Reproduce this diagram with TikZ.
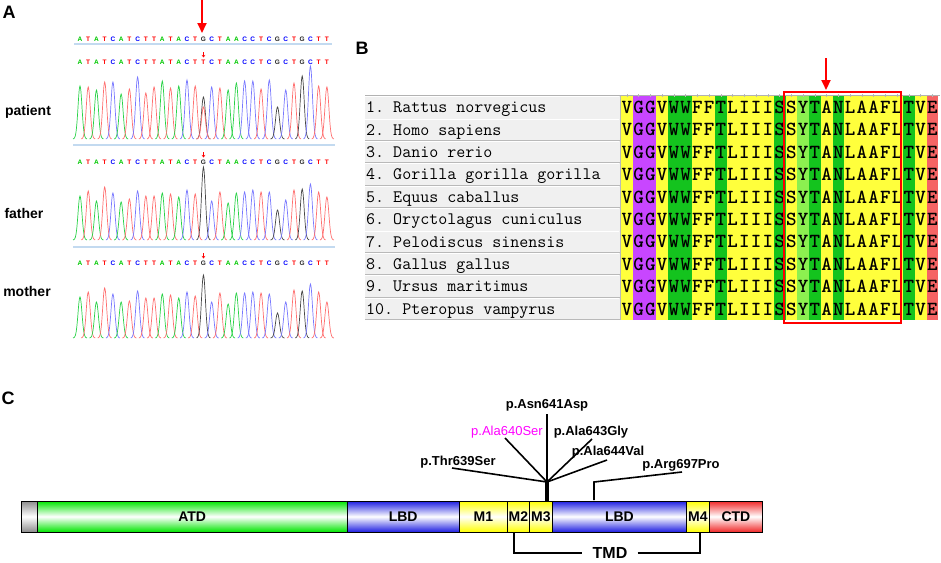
\documentclass[tikz,border=0pt]{standalone}
\usepackage{fontspec}
\usepackage{tikz}
\usetikzlibrary{arrows.meta}
\newfontfamily\arial{Liberation Sans}

\definecolor{trA}{RGB}{40,210,70}
\definecolor{trC}{RGB}{120,120,255}
\definecolor{trG}{RGB}{70,70,70}
\definecolor{trT}{RGB}{255,110,110}
\definecolor{sqA}{RGB}{0,200,0}
\definecolor{sqC}{RGB}{0,0,255}
\definecolor{sqG}{RGB}{40,40,40}
\definecolor{sqT}{RGB}{255,0,0}
\definecolor{seqline}{RGB}{195,218,240}
\definecolor{alY}{RGB}{255,255,60}
\definecolor{alP}{RGB}{200,70,255}
\definecolor{alG}{RGB}{20,195,30}
\definecolor{alL}{RGB}{140,240,80}
\definecolor{alR}{RGB}{245,100,100}
\definecolor{domG}{RGB}{0,230,0}
\definecolor{domB}{RGB}{30,30,225}
\definecolor{domY}{RGB}{255,255,0}
\definecolor{domR}{RGB}{240,40,40}
\definecolor{domK}{RGB}{140,140,140}

% one chromatogram: baseline, letter/height list
\newcommand{\trace}[2]{%
  \foreach \b/\h [count=\i from 0] in {#2} {%
    \pgfmathsetmacro{\px}{80+8.23*\i}
    \draw[tr\b, line width=0.7pt] plot[domain=-7:7, samples=19, smooth]
      ({\px+\x},{#1-\h*exp(-((\x/2.8)*(\x/2.8)))});
  }}
% one base-call row: y, letters
\newcommand{\seqrow}[2]{%
  \foreach \b [count=\i from 0] in {#2} {%
    \node[nt, text=sq\b] (s#1-\i) at ({80+8.23*\i},#1) {\b};
  }}

\begin{document}
\begin{tikzpicture}[x=1pt,y=-1pt]
\tikzset{basic/.style={inner sep=0pt, font=\arial\bfseries}}
\tikzset{panel/.style={basic, font=\arial\bfseries\fontsize{18}{20}\selectfont}}
\tikzset{who/.style={basic, font=\arial\bfseries\fontsize{14}{16}\selectfont}}
\tikzset{nt/.style={basic, font=\arial\bfseries\fontsize{6.5}{7}\selectfont}}
\tikzset{spname/.style={inner sep=0pt, anchor=base west, font=\ttfamily\fontsize{17.5}{18}\selectfont}}
\tikzset{aa/.style={inner sep=0pt, anchor=base, font=\ttfamily\bfseries\fontsize{20}{20}\selectfont}}
\tikzset{dom/.style={basic, draw=black, line width=0.9pt, anchor=west, minimum height=31pt,
  font=\arial\bfseries\fontsize{14}{16}\selectfont}}
\tikzset{mut/.style={basic, font=\arial\bfseries\fontsize{13}{15}\selectfont}}
\tikzset{xian/.style={draw, line width=1.6pt}}
\tikzset{jian/.style={draw=red, line width=2pt, -{Triangle[width=9pt,length=10pt]}}}
\tikzset{sep/.style={draw=seqline, line width=1.5pt}}
\tikzset{snpmark/.style={color=red, line width=0.7pt, -{Stealth[length=2.5pt,width=3.5pt]}}}

\useasboundingbox (0,0) rectangle (941,562);

% ---------------- A
\node[panel](pa)at(9,12){A};
\node[who](pat)at(28,112){patient};
\node[who](fat)at(24,213){father};
\node[who](mot)at(27,291){mother};

\coordinate (a0) at (202,0);
\coordinate (a1) at (202,33);
\path[jian] (a0) -- (a1);

\seqrow{39}{A,T,A,T,C,A,T,C,T,T,A,T,A,C,T,G,C,T,A,A,C,C,T,C,G,C,T,G,C,T,T}
\path[sep] (74,44) -- (332,44);
\seqrow{62}{A,T,A,T,C,A,T,C,T,T,A,T,A,C,T,T,C,T,A,A,C,C,T,C,G,C,T,G,C,T,T}
\seqrow{162}{A,T,A,T,C,A,T,C,T,T,A,T,A,C,T,G,C,T,A,A,C,C,T,C,G,C,T,G,C,T,T}
\seqrow{263}{A,T,A,T,C,A,T,C,T,T,A,T,A,C,T,G,C,T,A,A,C,C,T,C,G,C,T,G,C,T,T}
\draw[snpmark] (203.5,52) -- (203.5,57.5);
\draw[snpmark] (203.5,152) -- (203.5,157.5);
\draw[snpmark] (203.5,253) -- (203.5,258.5);

\trace{139}{A/53,T/52,A/49,T/57,C/57,A/45,T/50,C/62,T/46,T/52,A/58,T/51,A/53,C/59,T/53,G/42,C/52,T/51,A/49,A/56,C/58,C/58,T/50,C/59,G/32,C/49,T/56,G/63,C/73,T/53,T/52}
\draw[trT, line width=0.7pt] plot[domain=-7:7, samples=19, smooth]
  ({203.45+\x},{139-32*exp(-((\x/2.8)*(\x/2.8)))});
\path[sep] (73,145) -- (335,145);
\trace{240}{A/44,T/49,A/39,T/53,C/47,A/38,T/41,C/49,T/44,T/44,A/47,T/46,A/43,C/50,T/46,G/73,C/39,T/48,A/37,A/47,C/48,C/50,T/48,C/48,G/30,C/40,T/50,G/51,C/56,T/48,T/43}
\path[sep] (73,247) -- (335,247);
\trace{338}{A/41,T/46,A/36,T/50,C/44,A/36,T/37,C/47,T/40,T/40,A/44,T/43,A/40,C/46,T/42,G/63,C/36,T/45,A/34,A/45,C/45,C/46,T/45,C/44,G/25,C/36,T/48,G/47,C/54,T/46,T/36}

% ---------------- B
\node[panel](pb)at(362,48){B};
\coordinate (b0) at (826,58);
\coordinate (b1) at (826,90);
\path[jian] (b0) -- (b1);

\foreach \n [count=\r] in {Rattus norvegicus, Homo sapiens, Danio rerio, Gorilla gorilla gorilla,
  Equus caballus, Oryctolagus cuniculus, Pelodiscus sinensis, Gallus gallus, Ursus maritimus,
  Pteropus vampyrus} {
  \pgfmathsetmacro{\yy}{96+22.4*(\r-1)}
  \fill[gray!12] (365,\yy) rectangle (620,{\yy+22.4});
  \draw[white, line width=1pt] (365,{\yy+0.6}) -- (619,{\yy+0.6});
  \draw[gray!55, line width=0.8pt] (365,{\yy+22}) -- (620,{\yy+22}) -- (620,\yy);
  \node[spname](sp\r)at(366,{\yy+16.6}){\r.\ \n};
}

\foreach \c/\col [count=\k from 0] in {V/alY,G/alP,G/alP,V/alY,W/alG,W/alG,F/alY,F/alY,T/alG,
  L/alY,I/alY,I/alY,I/alY,S/alG,S/alY,Y/alL,T/alG,A/alY,N/alG,L/alY,A/alY,A/alY,F/alY,L/alY,
  T/alG,V/alY,E/alR} {
  \fill[\col] ({621+11.75*\k},96) rectangle ({621+11.75*(\k+1)},320);
  \draw[gray!55] ({621+11.75*(\k+0.5)},94) -- ++(0,2.5);
  \foreach \r in {1,...,10}
    \node[aa](aa\k-\r)at({621+11.75*(\k+0.5)},{96+22.4*(\r-1)+17.4}){\c};
}
\draw[gray!60, line width=1pt] (365,95) -- (940,95);
\draw[red, line width=1.3pt] (784,92) rectangle (901,323);

% ---------------- C
\node[panel](pc)at(8,398){C};

\node[dom, top color=domK, bottom color=domK, middle color=white, minimum width=16pt](nt)at(21,516.5){};
\node[dom, top color=domG, bottom color=domG, middle color=white, minimum width=309.5pt](atd)at(37,516.5){ATD};
\node[dom, top color=domB, bottom color=domB, middle color=white, minimum width=112.5pt](lbd1)at(346.5,516.5){LBD};
\node[dom, top color=domY, bottom color=domY, middle color=white, minimum width=48pt](m1)at(459,516.5){M1};
\node[dom, top color=domY, bottom color=domY, middle color=white, minimum width=22pt](m2)at(507,516.5){M2};
\node[dom, top color=domY, bottom color=domY, middle color=white, minimum width=23pt](m3)at(529,516.5){M3};
\node[dom, top color=domB, bottom color=domB, middle color=white, minimum width=134pt](lbd2)at(552,516.5){LBD};
\node[dom, top color=domY, bottom color=domY, middle color=white, minimum width=23pt](m4)at(686,516.5){M4};
\node[dom, top color=domR, bottom color=domR, middle color=white, minimum width=53pt](ctd)at(709,516.5){CTD};

% TMD bracket
\node[basic, font=\arial\bfseries\fontsize{16}{18}\selectfont, inner xsep=10pt](tmd)at(610,553){TMD};
\coordinate (tl) at (514,533);
\coordinate (tr) at (700,533);
\path[xian, line width=2pt] (tl) |- (tmd.west);
\path[xian, line width=2pt] (tmd.east) -| (tr);

% mutations
\node[mut](asn)at(547,405){p.Asn641Asp};
\node[basic, font=\arial\fontsize{13}{15}\selectfont, text={rgb,255:red,255;green,0;blue,255}](a640)at(507,432){p.Ala640Ser};
\node[mut](a643)at(591,432){p.Ala643Gly};
\node[mut](a644)at(608,452){p.Ala644Val};
\node[mut](thr)at(458,462){p.Thr639Ser};
\node[mut](arg)at(681,465){p.Arg697Pro};

\coordinate (hub) at (547,482);
\coordinate (e639) at (452,468);
\coordinate (e640) at (505,438);
\coordinate (e641) at (547,414);
\coordinate (e643) at (592,439);
\coordinate (e644) at (607,460);
\coordinate (e697) at (682,472);
\coordinate (k697) at (594,482);
\coordinate (b697) at (594,500);

\path[xian] (e639) -- (hub);
\path[xian] (e640) -- (hub);
\path[xian] (e641) -- (hub);
\path[xian] (e643) -- (hub);
\path[xian] (e644) -- (hub);
\path[xian] (e697) -- (k697) -- (b697);
\path[xian, line width=4.5pt] (hub) -- (m3.north -| hub);
\end{tikzpicture}
\end{document}
